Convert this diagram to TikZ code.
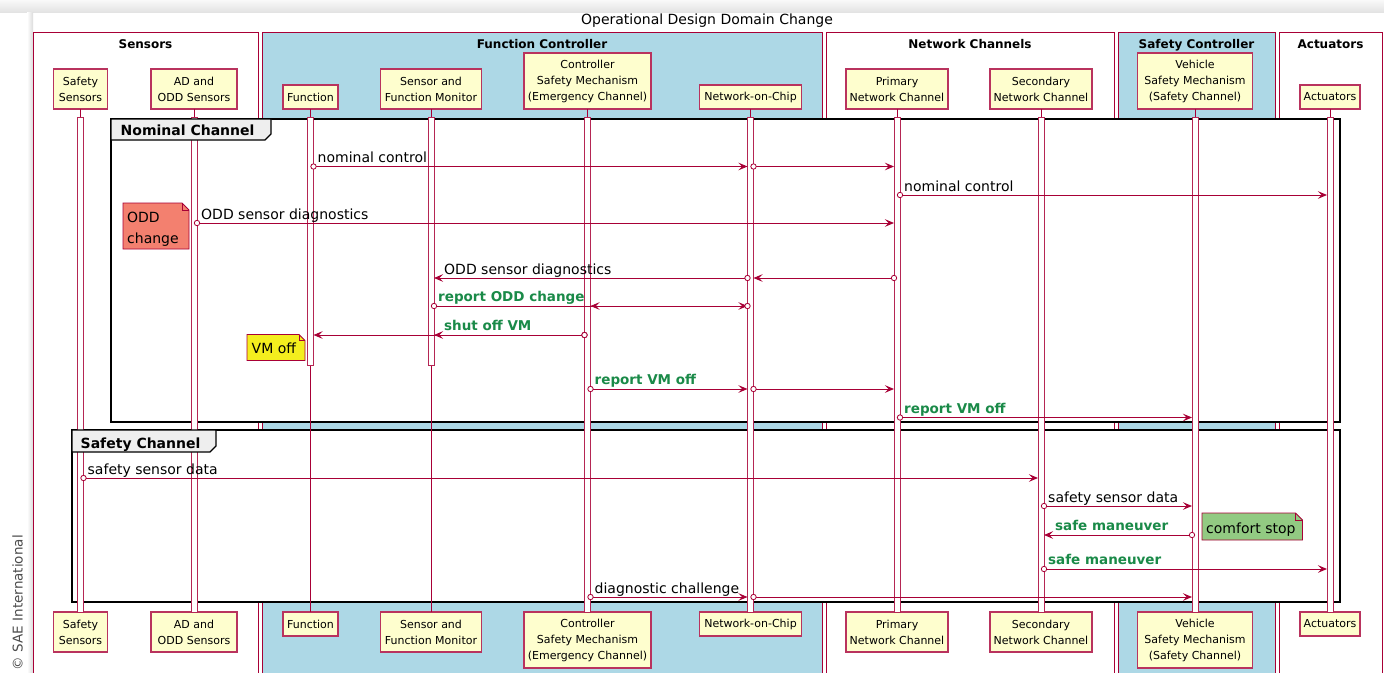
\documentclass[tikz,border=0pt]{standalone}
\usepackage{fontspec}
\setmainfont{DejaVu Sans}
\usetikzlibrary{arrows.meta,calc}

\definecolor{crim}{HTML}{A80036}
\definecolor{partfill}{HTML}{FEFECE}
\definecolor{grpblue}{HTML}{ADD8E6}
\definecolor{tabfill}{HTML}{EEEEEE}
\definecolor{msggreen}{HTML}{1A8A48}
\definecolor{salmonnote}{HTML}{F3806F}
\definecolor{yellownote}{HTML}{F4EE1E}
\definecolor{greennote}{HTML}{92CA82}

\newcommand\fsTitle{\fontsize{14}{16}\selectfont}
\newcommand\fsPart{\fontsize{11}{16}\selectfont}
\newcommand\fsGroup{\fontsize{12}{14}\selectfont\bfseries}
\newcommand\fsMsg{\fontsize{14}{16}\selectfont}
\newcommand\fsMsgB{\fontsize{13.5}{16}\selectfont\bfseries}
\newcommand\fsTab{\fontsize{14}{16}\selectfont\bfseries}

% participant box at the top and its copy at the bottom, joined by a lifeline
\newcommand\seqpart[5]{%
  \node[part, minimum width=#3pt, minimum height=#4pt, anchor=south] (#1) at (#2,109) {#5};
  \node[part, minimum width=#3pt, minimum height=#4pt, anchor=north] (#1b) at (#2,612) {#5};
  \draw[life] (#1.south) -- (#1b.north);}

% message from one activation edge to another on a given row, open circle at its start
\newcommand\seqarrow[3]{%
  \draw[msg] (#1 |- #3) -- (#2 |- #3);
  \draw[dot] (#1 |- #3) circle (2.7pt);}

\begin{document}
\begin{tikzpicture}[x=1pt,y=-1pt,
  part/.style={draw=crim!80, line width=1.1pt, fill=partfill, inner sep=0pt, outer sep=0pt, align=center, font=\fsPart},
  grp/.style={draw=crim, line width=0.8pt},
  grptitle/.style={font=\fsGroup, anchor=base, inner sep=0pt},
  frame/.style={draw=black, line width=1.4pt, fill=white},
  tab/.style={draw=black, line width=1.2pt, fill=tabfill},
  life/.style={draw=crim, line width=0.8pt},
  bar/.style={draw=crim!85, line width=1pt, fill=white, minimum width=6pt, inner sep=0pt, outer sep=0pt},
  msg/.style={draw=crim, line width=0.9pt, -{Stealth[length=9pt,width=7.5pt,inset=3.5pt]}},
  dot/.style={draw=crim, line width=0.8pt, fill=white},
  lbl/.style={font=\fsMsg, anchor=base west, inner sep=0pt},
  glbl/.style={font=\fsMsgB, text=msggreen, anchor=base west, inner sep=0pt},
  note/.style={draw=crim, line width=0.8pt},
  notetext/.style={font=\fsMsg, anchor=base west, inner sep=0pt}
]
\useasboundingbox (0,0) rectangle (1384,672);
\clip (0,0) rectangle (1384,672);

% page and its shadow
\fill[white] (0,0) rectangle (1384,672);
\shade[top color=gray!5, bottom color=gray!22] (0,0) rectangle (1384,12);
\shade[left color=white, right color=gray!28] (27,12) rectangle (33,672);

\node[font=\fsTitle, anchor=base, inner sep=0pt] (title) at (707,24.5) {Operational Design Domain Change};

% participant groups
\filldraw[grp, fill=white]   (33,32) rectangle (258,690);
\filldraw[grp, fill=grpblue] (262,32) rectangle (822,690);
\filldraw[grp, fill=white]   (826,32) rectangle (1114,690);
\filldraw[grp, fill=grpblue] (1118,32) rectangle (1275,690);
\filldraw[grp, fill=white]   (1279,32) rectangle (1382,690);
\node[grptitle] (gSens) at (145.5,48) {Sensors};
\node[grptitle] (gFunc) at (542,48) {Function Controller};
\node[grptitle] (gNet)  at (970,48) {Network Channels};
\node[grptitle] (gSafe) at (1196.5,48) {Safety Controller};
\node[grptitle] (gAct)  at (1330.5,48) {Actuators};

% combined fragment bodies
\filldraw[frame] (111,119) rectangle (1340,422);
\filldraw[frame] (72,430) rectangle (1340,602);

% participants
\seqpart{sf}{80.5}{54}{40}{Safety\\Sensors}
\seqpart{ad}{194}{86}{40}{AD and\\ODD Sensors}
\seqpart{fn}{310.5}{55}{24}{Function}
\seqpart{mon}{431}{101}{40}{Sensor and\\Function Monitor}
\seqpart{ctl}{587.5}{127}{56}{Controller\\Safety Mechanism\\(Emergency Channel)}
\seqpart{noc}{750.5}{102}{24}{Network-on-Chip}
\seqpart{pri}{897}{102}{40}{Primary\\Network Channel}
\seqpart{sec}{1041}{102}{40}{Secondary\\Network Channel}
\seqpart{veh}{1195}{115}{56}{Vehicle\\Safety Mechanism\\(Safety Channel)}
\seqpart{act}{1330}{60}{24}{Actuators}

% activation bars
\node[bar, minimum height=495pt, anchor=north] (sfA)  at (80.5,117) {};
\node[bar, minimum height=495pt, anchor=north] (adA)  at (194,117) {};
\node[bar, minimum height=248pt, anchor=north] (fnA)  at (310.5,117) {};
\node[bar, minimum height=248pt, anchor=north] (monA) at (431,117) {};
\node[bar, minimum height=495pt, anchor=north] (ctlA) at (587.5,117) {};
\node[bar, minimum height=495pt, anchor=north] (nocA) at (750.5,117) {};
\node[bar, minimum height=495pt, anchor=north] (priA) at (897,117) {};
\node[bar, minimum height=495pt, anchor=north] (secA) at (1041,117) {};
\node[bar, minimum height=495pt, anchor=north] (vehA) at (1195,117) {};
\node[bar, minimum height=495pt, anchor=north] (actA) at (1330,117) {};

% fragment tabs, above the lifelines
\filldraw[tab] (111,119) -- (271,119) -- (271,134) -- (265,140) -- (111,140) -- cycle;
\node[font=\fsTab, anchor=base west, inner sep=0pt] (fNom) at (120.5,135.5) {Nominal Channel};
\filldraw[tab] (72,430) -- (216,430) -- (216,446) -- (210,452) -- (72,452) -- cycle;
\node[font=\fsTab, anchor=base west, inner sep=0pt] (fSafe) at (80.5,448) {Safety Channel};

% notes
\filldraw[note, fill=salmonnote] (123,203) -- (182,203) -- (189,210) -- (189,249) -- (123,249) -- cycle;
\draw[note] (182,203) -- (182,210) -- (189,210);
\node[notetext] (odd1) at (127,222.5) {ODD};
\node[notetext] (odd2) at (127,243) {change};

\filldraw[note, fill=yellownote] (247,334.5) -- (299,334.5) -- (305,340.5) -- (305,360.5) -- (247,360.5) -- cycle;
\draw[note] (299,334.5) -- (299,340.5) -- (305,340.5);
\node[notetext] (vmoff) at (251.5,353.3) {VM off};

\filldraw[note, fill=greennote] (1202,513) -- (1295.5,513) -- (1302.5,520) -- (1302.5,540) -- (1202,540) -- cycle;
\draw[note] (1295.5,513) -- (1295.5,520) -- (1302.5,520);
\node[notetext] (cstop) at (1206,533.3) {comfort stop};

% message rows
\coordinate (r1) at (0,166.5);
\coordinate (r2) at (0,195);
\coordinate (r3) at (0,223);
\coordinate (r4) at (0,278);
\coordinate (r5) at (0,306);
\coordinate (r6) at (0,335);
\coordinate (r7) at (0,389);
\coordinate (r8) at (0,417.5);
\coordinate (r9) at (0,478);
\coordinate (r10) at (0,506);
\coordinate (r11) at (0,535);
\coordinate (r12) at (0,569);
\coordinate (r13) at (0,597);

% Nominal Channel
\seqarrow{fnA.east}{nocA.west}{r1}
\seqarrow{nocA.east}{priA.west}{r1}
\node[lbl] (m1) at ([xshift=4pt,yshift=4pt]fnA.east |- r1) {nominal control};

\seqarrow{priA.east}{actA.west}{r2}
\node[lbl] (m2) at ([xshift=4pt,yshift=4pt]priA.east |- r2) {nominal control};

\seqarrow{adA.east}{priA.west}{r3}
\node[lbl] (m3) at ([xshift=4pt,yshift=4pt]adA.east |- r3) {ODD sensor diagnostics};

\seqarrow{priA.west}{nocA.east}{r4}
\seqarrow{nocA.west}{monA.east}{r4}
\node[lbl] (m4) at ([xshift=10pt,yshift=4pt]monA.east |- r4) {ODD sensor diagnostics};

\seqarrow{monA.east}{nocA.west}{r5}
\seqarrow{nocA.west}{ctlA.east}{r5}
\node[glbl] (m5) at ([xshift=4pt,yshift=4.5pt]monA.east |- r5) {report ODD change};

\seqarrow{ctlA.west}{fnA.east}{r6}
\seqarrow{ctlA.west}{monA.east}{r6}
\node[glbl] (m6) at ([xshift=10pt,yshift=4.5pt]monA.east |- r6) {shut off VM};

\seqarrow{ctlA.east}{nocA.west}{r7}
\seqarrow{nocA.east}{priA.west}{r7}
\node[glbl] (m7) at ([xshift=4pt,yshift=4.5pt]ctlA.east |- r7) {report VM off};

\seqarrow{priA.east}{vehA.west}{r8}
\node[glbl] (m8) at ([xshift=4pt,yshift=4.5pt]priA.east |- r8) {report VM off};

% Safety Channel
\seqarrow{sfA.east}{secA.west}{r9}
\node[lbl] (m9) at ([xshift=4pt,yshift=4pt]sfA.east |- r9) {safety sensor data};

\seqarrow{secA.east}{vehA.west}{r10}
\node[lbl] (m10) at ([xshift=4pt,yshift=4pt]secA.east |- r10) {safety sensor data};

\seqarrow{vehA.west}{secA.east}{r11}
\node[glbl] (m11) at ([xshift=11pt,yshift=4.5pt]secA.east |- r11) {safe maneuver};

\seqarrow{secA.east}{actA.west}{r12}
\node[glbl] (m12) at ([xshift=4pt,yshift=4.5pt]secA.east |- r12) {safe maneuver};

\seqarrow{ctlA.east}{nocA.west}{r13}
\seqarrow{nocA.east}{vehA.west}{r13}
\node[lbl] (m13) at ([xshift=4pt,yshift=4pt]ctlA.east |- r13) {diagnostic challenge};

% credit line
\node[font=\fontsize{13.5}{16}\selectfont, text=black!70, rotate=90, anchor=east, inner sep=0pt] (credit) at (17.5,535) {© SAE International};
\end{tikzpicture}
\end{document}
